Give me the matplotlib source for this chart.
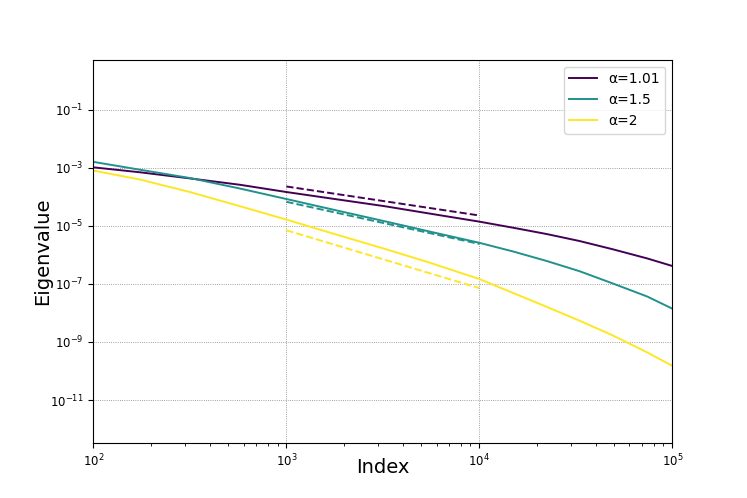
import matplotlib
matplotlib.use('Agg')
import matplotlib.pyplot as plt

# Data
index = [100, 174, 316, 575, 1000, 1780, 3240, 5500, 10000, 14960, 22400, 33100, 49000, 74100, 100000]
eig_101 = [1.05e-3, 7.1e-4, 4.37e-4, 2.63e-4, 1.48e-4, 8.5e-5, 4.79e-5, 2.69e-5, 1.41e-5,
           8.7e-6, 5.25e-6, 3.02e-6, 1.58e-6, 7.6e-7, 4.17e-7]
eig_15 = [1.62e-3, 8.7e-4, 4.5e-4, 1.95e-4, 8.5e-5, 3.55e-5, 1.45e-5, 6.46e-6, 2.63e-6,
          1.32e-6, 6.17e-7, 2.75e-7, 1.05e-7, 3.7e-8, 1.41e-8]
eig_2 = [8.1e-4, 4.0e-4, 1.48e-4, 4.8e-5, 1.66e-5, 5.25e-6, 1.62e-6, 5.5e-7, 1.48e-7,
         4.9e-8, 1.62e-8, 5.4e-9, 1.7e-9, 4.37e-10, 1.51e-10]

# Reference power-law lines
ref_index = [1000, 10000]
ref_101 = [2.3e-4, 2.3e-5]
ref_15 = [6.8e-5, 2.4e-6]
ref_2 = [7.1e-6, 7.2e-8]

labels = ['α=1.01', 'α=1.5', 'α=2']
colors = ['#440154', '#21918c', '#fde725']

fig, ax = plt.subplots(figsize=(7.47, 4.98), dpi=100)

for y, ref, lab, c in zip([eig_101, eig_15, eig_2], [ref_101, ref_15, ref_2], labels, colors):
    ax.plot(index, y, color=c, label=lab, linewidth=1.4)
    ax.plot(ref_index, ref, color=c, linestyle='--', linewidth=1.4)

ax.set_xscale('log')
ax.set_yscale('log')
ax.set_xlim(1e2, 1e5)
ax.set_ylim(10**-12.49, 10**0.73)
ax.grid(True, which='major', color='gray', linestyle=':', linewidth=0.6)
ax.tick_params(labelsize=8.5)
ax.set_xlabel('Index', fontsize=14)
ax.set_ylabel('Eigenvalue', fontsize=14)
ax.xaxis.set_label_coords(0.5, -0.039)
ax.yaxis.set_label_coords(-0.072, 0.5)
ax.legend(loc='upper right', fontsize=10)

plt.savefig('out.png', dpi=100)
